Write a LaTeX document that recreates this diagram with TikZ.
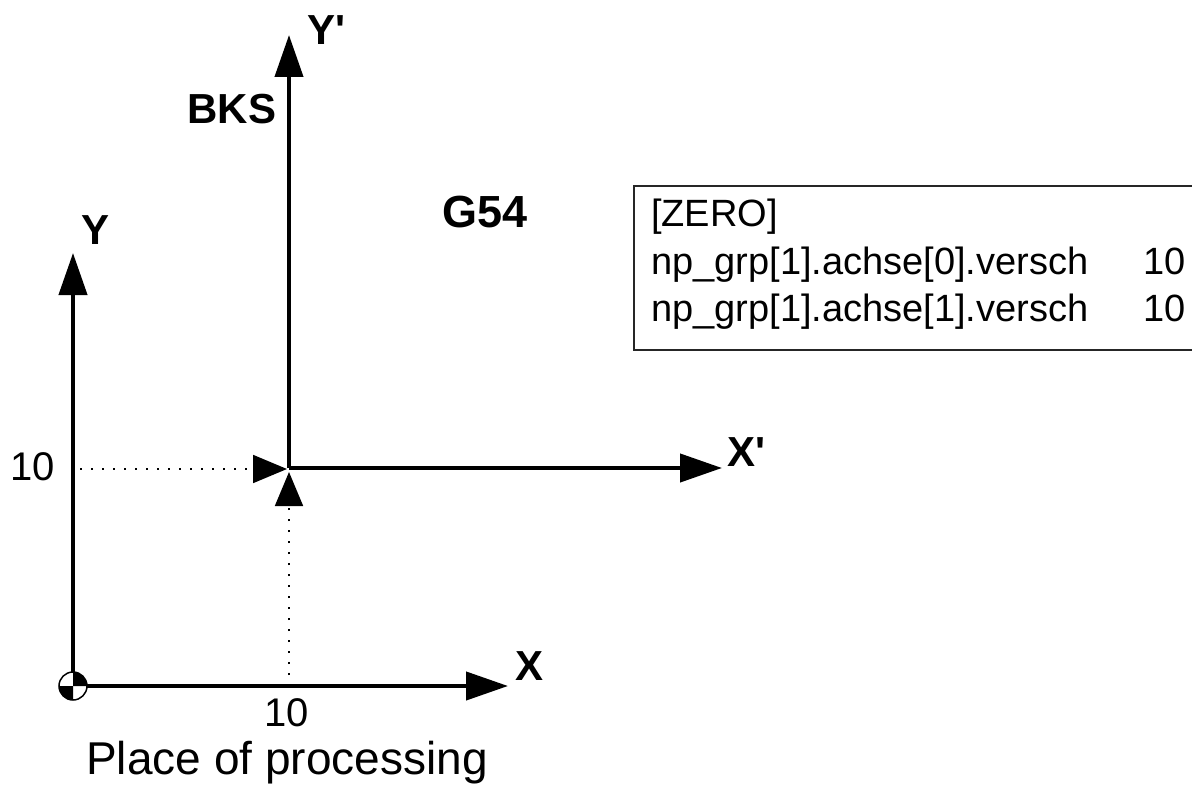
\documentclass[tikz,border=0pt]{standalone}
\usepackage{fontspec}
\setmainfont{Liberation Sans}
\usetikzlibrary{arrows.meta}
\begin{document}
\begin{tikzpicture}[x=1pt,y=-1pt,
  axis/.style={line width=4.2pt,-{Triangle[length=42pt,width=28pt]}},
  guide/.style={line width=1.8pt,dash pattern=on 2pt off 9pt,-{Triangle[length=34pt,width=28pt]}},
  bigl/.style={font=\fontsize{42}{48}\selectfont\bfseries,inner sep=0pt},
  numl/.style={font=\fontsize{40}{46}\selectfont,inner sep=0pt},
  boxt/.style={font=\fontsize{38}{44}\selectfont,inner sep=0pt,anchor=base west}]
\useasboundingbox (0,0) rectangle (1192,792);
\clip (0,0) rectangle (1192,792);
% coordinates
\coordinate (O) at (73,686);
\coordinate (Ytip) at (73,253);
\coordinate (Xtip) at (508,686);
\coordinate (B) at (289,468);
\coordinate (Yptip) at (289,35);
\coordinate (Xptip) at (722,468);
\coordinate (hs) at (80,469);
\coordinate (he) at (287,469);
\coordinate (vs) at (289,686);
\coordinate (ve) at (289,472);
% box
\draw[line width=1.8pt,draw=black!85] (634,186) rectangle (1210,350);
\node[boxt] (z0) at (651,226) {[ZERO]};
\node[boxt] (z1) at (651,274) {np\_grp[1].achse[0].versch};
\node[boxt] (z2) at (651,321) {np\_grp[1].achse[1].versch};
\node[boxt] (v1) at (1143,274) {10};
\node[boxt] (v2) at (1143,321) {10};
% guides
\draw[guide] (hs) -- (he);
\draw[guide] (vs) -- (ve);
% axes
\draw[axis] (O) -- (Ytip);
\draw[axis] (O) -- (Xtip);
\draw[axis] (B) -- (Yptip);
\draw[axis] (B) -- (Xptip);
% origin symbol
\fill[white] (O) circle (14);
\fill[black] (O) -- ++(14,0) arc (0:-90:14) -- cycle;
\fill[black] (O) -- ++(-14,0) arc (180:90:14) -- cycle;
\draw[line width=1.5pt] (O) circle (14);
% labels
\node[bigl] (lY) at (96,230) {Y};
\node[bigl] (lYp) at (326,30) {Y\textquotesingle};
\node[bigl] (lX) at (530,666) {X};
\node[bigl] (lXp) at (746,452) {X\textquotesingle};
\node[bigl] (lBKS) at (232,109) {BKS};
\node[bigl,font=\fontsize{45}{50}\selectfont\bfseries] (lG) at (485,212) {G54};
\node[numl] (n1) at (33,467) {10};
\node[numl] (n2) at (287,713) {10};
\node[font=\fontsize{46}{52}\selectfont,inner sep=0pt] (pp) at (287,763) {Place of processing};
\end{tikzpicture}
\end{document}
